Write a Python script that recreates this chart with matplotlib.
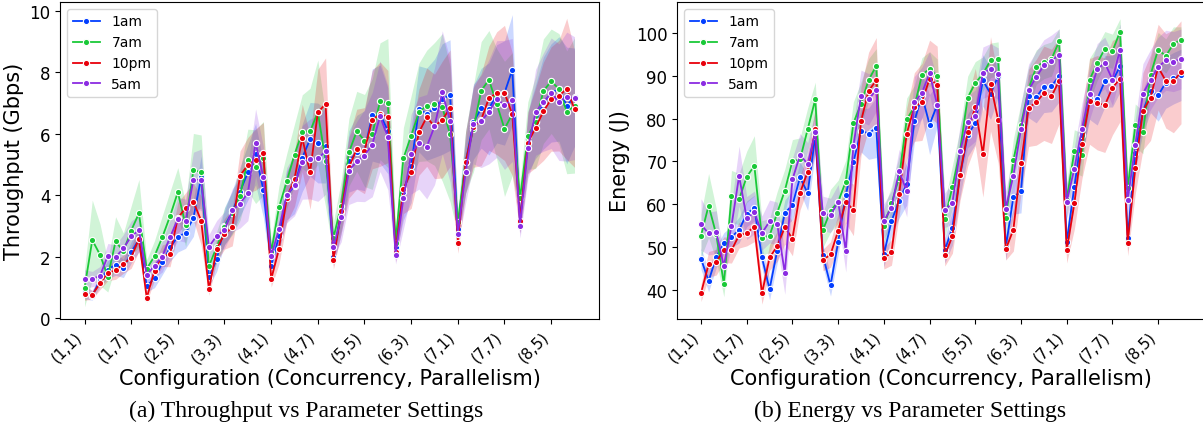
import matplotlib
matplotlib.use("Agg")
import matplotlib.pyplot as plt
import numpy as np

# ---------------- data ----------------
CONCURRENCY = [1, 2, 3, 4, 5, 6, 7, 8]
PARALLELISM = [1, 2, 3, 4, 5, 6, 7, 8]
TICK_LABELS = ["(1,1)", "(1,7)", "(2,5)", "(3,3)", "(4,1)", "(4,7)",
               "(5,5)", "(6,3)", "(7,1)", "(7,7)", "(8,5)"]
SERIES = ["1am", "7am", "10pm", "5am"]
COLORS = ["#023eff", "#1ac938", "#e8000b", "#8b2be2"]

TP_1AM = [0.88, 0.73, 1.24, 1.58, 1.74, 1.62, 2.14, 2.56,
          1.05, 1.29, 1.81, 2.30, 2.65, 2.77, 3.26, 4.58,
          1.33, 1.92, 3.00, 3.45, 4.12, 4.74, 5.34, 4.17,
          1.70, 2.66, 4.00, 4.30, 5.22, 5.82, 5.70, 5.60,
          2.00, 3.44, 5.10, 5.40, 5.45, 6.61, 6.64, 6.10,
          2.33, 4.09, 4.96, 6.81, 6.64, 6.83, 7.13, 7.26,
          2.90, 5.07, 6.37, 6.83, 6.81, 7.30, 7.33, 8.08,
          3.17, 5.72, 6.40, 7.00, 7.33, 7.46, 6.92, 7.19]
TP_7AM = [0.97, 2.54, 2.06, 1.35, 2.50, 2.17, 2.85, 3.41,
          1.60, 2.02, 2.63, 3.32, 4.10, 3.03, 4.81, 4.76,
          1.69, 2.32, 2.98, 3.41, 3.98, 5.15, 4.93, 5.20,
          2.14, 3.60, 4.45, 5.32, 6.07, 6.08, 6.70, 5.12,
          2.61, 3.66, 5.40, 6.08, 5.78, 5.99, 7.06, 7.00,
          2.46, 5.20, 5.94, 6.70, 6.92, 6.97, 6.86, 5.99,
          3.12, 5.07, 6.16, 7.40, 7.76, 6.97, 6.16, 6.64,
          3.90, 5.94, 6.37, 7.39, 7.71, 7.46, 6.70, 6.92]
TP_10PM = [0.78, 0.76, 1.13, 1.47, 1.56, 1.76, 1.97, 2.58,
           0.66, 1.54, 2.03, 2.07, 3.26, 3.58, 3.79, 3.17,
           0.94, 2.25, 2.74, 2.95, 4.64, 4.98, 5.16, 5.37,
           1.26, 2.25, 3.91, 4.53, 5.86, 4.74, 6.70, 6.97,
           1.89, 3.47, 4.91, 5.50, 5.45, 6.46, 6.64, 6.56,
           2.14, 4.20, 4.77, 6.05, 6.54, 6.24, 6.46, 6.83,
           2.46, 5.07, 6.21, 6.46, 7.16, 7.32, 7.33, 6.64,
           3.17, 5.70, 6.20, 6.73, 7.13, 7.24, 7.46, 6.81]
TP_5AM = [1.27, 1.27, 1.38, 2.03, 1.98, 2.27, 2.66, 2.86,
          1.40, 1.71, 2.00, 2.63, 3.23, 3.17, 4.50, 4.50,
          2.32, 2.68, 2.86, 3.51, 3.73, 4.07, 5.71, 4.58,
          2.02, 2.90, 4.00, 4.33, 5.07, 5.18, 5.20, 5.43,
          2.30, 3.28, 4.80, 5.10, 5.29, 5.65, 6.57, 5.88,
          2.06, 3.90, 5.34, 5.70, 5.58, 6.24, 7.35, 6.43,
          2.74, 4.74, 6.32, 6.40, 6.72, 7.13, 6.94, 7.10,
          3.01, 5.54, 6.70, 7.03, 7.32, 7.03, 7.21, 7.16]

TP_HW_1AM = [0.25, 0.15, 0.2, 0.3, 0.35, 0.3, 0.35, 0.4,
             0.2, 0.3, 0.4, 0.45, 0.5, 0.5, 0.6, 0.7,
             0.3, 0.4, 0.6, 0.7, 0.8, 0.9, 1.0, 0.9,
             0.3, 0.5, 0.8, 0.9, 1.1, 1.2, 1.3, 1.2,
             0.3, 0.7, 1.0, 1.2, 1.3, 1.5, 1.6, 1.4,
             0.3, 0.9, 1.2, 1.4, 1.5, 1.6, 1.8, 1.8,
             0.4, 1.0, 1.2, 1.3, 1.5, 1.6, 1.7, 1.8,
             0.4, 1.0, 1.2, 1.5, 1.6, 1.7, 1.9, 1.6]
TP_HW_7AM = [0.6, 1.3, 1.0, 0.5, 0.8, 0.6, 0.8, 1.1,
             0.3, 0.5, 0.7, 0.8, 0.8, 0.7, 1.2, 1.2,
             0.4, 0.5, 0.6, 0.7, 0.8, 1.0, 1.2, 1.2,
             0.4, 0.7, 0.9, 1.0, 1.2, 1.4, 1.7, 1.5,
             0.5, 0.8, 1.1, 1.3, 1.5, 1.8, 1.9, 2.1,
             0.4, 1.0, 1.3, 1.6, 1.8, 2.0, 2.4, 2.2,
             0.4, 1.0, 1.4, 1.6, 1.6, 1.8, 2.2, 2.0,
             0.5, 1.1, 1.5, 1.7, 1.7, 1.8, 2.0, 2.2]
TP_HW_10PM = [0.2, 0.15, 0.2, 0.25, 0.3, 0.3, 0.35, 0.4,
              0.15, 0.3, 0.35, 0.4, 0.5, 0.5, 0.6, 0.8,
              0.2, 0.4, 0.5, 0.6, 0.8, 0.9, 1.0, 1.0,
              0.25, 0.5, 0.8, 0.9, 1.1, 1.2, 1.4, 1.5,
              0.3, 0.7, 1.0, 1.3, 1.4, 1.6, 1.7, 1.5,
              0.3, 0.8, 1.2, 1.4, 1.6, 1.7, 1.9, 1.9,
              0.35, 1.0, 1.3, 1.5, 1.7, 2.0, 2.2, 2.0,
              0.4, 1.0, 1.3, 1.6, 1.7, 1.8, 2.3, 1.9]
TP_HW_5AM = [0.3, 0.25, 0.3, 0.4, 0.4, 0.45, 0.5, 0.5,
             0.3, 0.4, 0.5, 0.55, 0.7, 0.7, 0.9, 1.0,
             0.4, 0.5, 0.6, 0.7, 0.8, 0.9, 1.1, 1.0,
             0.3, 0.6, 0.9, 1.0, 1.2, 1.3, 1.4, 1.4,
             0.3, 0.8, 1.1, 1.3, 1.5, 1.7, 1.8, 1.7,
             0.3, 1.0, 1.3, 1.5, 1.7, 1.9, 2.0, 2.0,
             0.35, 1.0, 1.3, 1.5, 1.7, 1.9, 2.1, 2.0,
             0.4, 1.0, 1.4, 1.6, 1.8, 1.9, 2.1, 2.0]

EN_1AM = [47.3, 42.1, 47.7, 50.9, 52.4, 54.0, 57.8, 59.1,
          47.6, 40.2, 49.2, 58.0, 59.8, 66.3, 62.6, 76.0,
          48.1, 41.1, 51.2, 62.2, 69.8, 77.2, 76.5, 77.9,
          48.3, 56.1, 60.8, 64.8, 79.4, 85.4, 78.6, 83.2,
          49.3, 54.5, 66.8, 76.1, 79.0, 88.9, 85.8, 89.9,
          50.0, 61.7, 63.0, 85.2, 85.0, 87.4, 87.6, 89.9,
          51.1, 64.1, 76.2, 84.8, 84.5, 88.7, 88.7, 92.2,
          52.2, 72.0, 81.7, 86.4, 85.4, 88.4, 89.4, 90.2]
EN_7AM = [52.7, 59.7, 53.0, 41.4, 61.9, 61.2, 66.4, 69.0,
          52.2, 52.7, 58.0, 63.2, 70.1, 70.5, 77.5, 84.5,
          54.0, 58.5, 60.6, 65.3, 78.9, 83.5, 89.0, 92.3,
          55.0, 60.2, 66.2, 79.8, 82.7, 90.2, 91.6, 89.9,
          56.5, 64.1, 72.5, 84.9, 88.3, 90.4, 93.6, 93.9,
          56.7, 70.3, 78.6, 87.0, 92.0, 93.3, 93.9, 98.0,
          61.0, 72.4, 71.6, 89.1, 92.9, 96.3, 95.7, 100.3,
          63.7, 78.4, 76.8, 90.2, 96.1, 94.6, 97.4, 98.4]
EN_10PM = [39.3, 46.0, 46.5, 49.4, 49.3, 52.8, 53.3, 54.8,
           39.2, 47.6, 50.2, 54.7, 52.0, 62.7, 67.6, 77.6,
           47.0, 48.3, 53.8, 60.6, 58.7, 79.4, 86.5, 88.9,
           47.4, 48.8, 62.3, 76.5, 82.7, 83.9, 89.3, 87.9,
           48.1, 52.6, 66.9, 76.9, 82.7, 71.7, 88.1, 79.7,
           49.5, 54.1, 69.6, 82.5, 83.8, 85.9, 85.2, 88.8,
           49.3, 60.2, 74.0, 84.0, 83.7, 83.1, 87.2, 89.3,
           51.0, 68.5, 81.7, 84.9, 92.0, 88.8, 88.7, 90.8]
EN_5AM = [55.3, 53.2, 53.5, 45.6, 55.0, 66.6, 56.8, 58.1,
          53.3, 56.0, 55.5, 44.0, 65.8, 71.5, 69.4, 76.8,
          57.9, 57.4, 60.6, 49.2, 73.6, 85.3, 84.5, 86.7,
          56.1, 59.2, 67.8, 63.1, 83.8, 86.0, 90.6, 83.2,
          58.6, 60.4, 72.4, 79.2, 80.7, 90.7, 91.5, 90.5,
          59.0, 66.7, 77.6, 86.7, 89.7, 92.4, 93.5, 94.9,
          60.6, 68.3, 77.6, 85.8, 91.5, 93.0, 89.1, 96.1,
          60.9, 73.8, 85.8, 89.1, 92.0, 93.6, 93.3, 93.9]

EN_HW_1AM = [2.5, 2.5, 2.5, 2.5, 2.5, 3, 3, 3,
             2.5, 2.5, 3, 3, 3.5, 3.5, 4, 4,
             2.5, 2.5, 3, 3.5, 4, 5, 6, 7,
             3, 3.5, 4, 5, 5, 5, 7, 5,
             3, 4, 5, 5, 5, 6, 6, 5,
             3, 4, 5, 5, 6, 6, 6, 6,
             3, 4, 5, 5, 6, 6, 6, 6,
             3, 4, 5, 5, 6, 6, 6, 6]
EN_HW_7AM = [5, 7.5, 6, 3, 6, 6, 6, 7,
             4, 4, 5, 5, 5, 5, 5, 4,
             4, 5, 5, 5, 5, 5, 5, 4,
             4, 4, 5, 5, 5, 4, 4, 4,
             4, 5, 5, 5, 5, 4, 4, 4,
             4, 5, 5, 5, 4, 4, 4, 3,
             4, 5, 5, 5, 4, 4, 4, 3,
             4, 5, 5, 4, 4, 4, 4, 3]
EN_HW_10PM = [2, 3, 3, 3, 3, 3, 3, 3.5,
              2.5, 3, 3.5, 4, 4, 4, 4, 5,
              2.5, 3, 4, 5, 6, 8, 9, 10,
              2.5, 3, 5, 6, 8, 9, 9, 9,
              2.5, 4, 6, 8, 9, 10, 11, 10,
              2.5, 5, 7, 9, 10, 11, 11, 10,
              3, 6, 8, 10, 11, 11, 11, 10,
              3, 6, 9, 10, 10, 11, 12, 12]
EN_HW_5AM = [6, 5, 5, 3, 5, 7, 5, 5,
             4, 5, 5, 5, 5, 5, 5, 5,
             4, 4, 4, 5, 5, 6, 6, 5,
             4, 4, 5, 6, 6, 6, 5, 6,
             4, 5, 6, 6, 6, 6, 6, 6,
             4, 5, 6, 6, 6, 6, 6, 6,
             4, 5, 6, 6, 6, 6, 6, 6,
             4, 6, 7, 7, 7, 7, 7, 7]

CONFIGS = [f"({c},{p})" for c in CONCURRENCY for p in PARALLELISM]

# ---------------- figure ----------------
fig = plt.figure(figsize=(12.03, 4.35), dpi=100)
ax1 = fig.add_axes([60 / 1203, 115 / 435, 539 / 1203, 317 / 435])
ax2 = fig.add_axes([677 / 1203, 115 / 435, 528 / 1203, 317 / 435])

x = np.arange(len(CONFIGS))


def draw(ax, means, hws, ylabel, ylim, yticks):
    for name, col, m, h in zip(SERIES, COLORS, means, hws):
        m = np.asarray(m)
        h = np.asarray(h)
        ax.fill_between(x, m - h, m + h, color=col, alpha=0.2, linewidth=0)
        ax.plot(x, m, color=col, lw=1.3, marker="o", markersize=4.5,
                markeredgecolor="white", markeredgewidth=0.8, label=name)
    ax.set_xlim(-0.05 * (len(x) - 1), (len(x) - 1) * 1.05)
    ax.set_ylim(*ylim)
    ax.set_yticks(yticks)
    tpos = [CONFIGS.index(t) for t in TICK_LABELS]
    ax.set_xticks(tpos)
    ax.set_xticklabels(TICK_LABELS, rotation=45, ha="right", fontsize=11)
    ax.tick_params(axis="y", labelsize=12)
    ax.set_xlabel("Configuration (Concurrency, Parallelism)", fontsize=15,
                  labelpad=2)
    ax.set_ylabel(ylabel, fontsize=15)
    ax.legend(loc="upper left", fontsize=10, framealpha=0.8)


draw(ax1, [TP_1AM, TP_7AM, TP_10PM, TP_5AM],
     [TP_HW_1AM, TP_HW_7AM, TP_HW_10PM, TP_HW_5AM],
     "Throughput (Gbps)", (-0.03, 10.29), [0, 2, 4, 6, 8, 10])
draw(ax2, [EN_1AM, EN_7AM, EN_10PM, EN_5AM],
     [EN_HW_1AM, EN_HW_7AM, EN_HW_10PM, EN_HW_5AM],
     "Energy (J)", (33.25, 107.2), [40, 50, 60, 70, 80, 90, 100])

fig.text(306 / 1203, 1 - 411 / 435, "(a) Throughput vs Parameter Settings",
         family="Liberation Serif", fontsize=17, ha="center", va="center")
fig.text(910 / 1203, 1 - 411 / 435, "(b) Energy vs Parameter Settings",
         family="Liberation Serif", fontsize=17, ha="center", va="center")

fig.savefig("out.png", dpi=100)
